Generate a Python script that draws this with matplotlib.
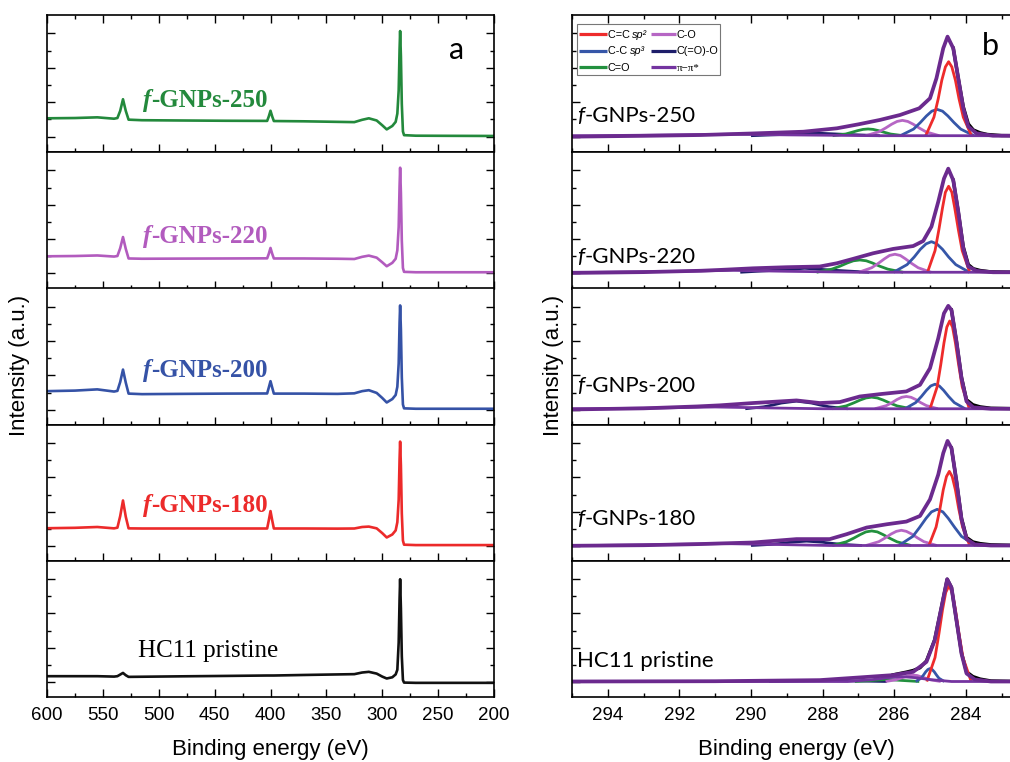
import matplotlib
matplotlib.use("Agg")
import matplotlib.pyplot as plt
from matplotlib.lines import Line2D
from matplotlib.patches import Rectangle
from matplotlib.ticker import MultipleLocator, FixedLocator

# ---------------- data: survey spectra (panel a) ----------------
survey_E = [600, 575, 555, 540, 537, 534.5, 532, 529.5, 527, 515, 480, 440, 403, 401.5, 400, 398.5,
            397, 370, 340, 325, 318, 312, 305, 300, 296, 291, 288, 286.5, 285.3, 284.5, 284, 283.3,
            282.5, 281.5, 280.5, 270, 240, 200]
survey_250 = [24.6, 24.8, 25.3, 24.3, 24.8, 30.0, 38.5, 30.0, 23.6, 23.2, 23.0, 22.8, 22.7, 26.0, 30.1, 26.0,
              22.6, 22.4, 22.0, 21.8, 23.5, 24.6, 23.0, 19.5, 16.5, 19.0, 22.0, 28.0, 45.0, 75.0, 88.3, 70.0,
              35.0, 15.0, 12.3, 11.9, 11.8, 11.7]
survey_220 = [23.6, 23.8, 24.2, 23.4, 23.8, 29.5, 37.7, 29.0, 22.0, 21.8, 21.9, 22.0, 22.1, 25.5, 29.7, 25.5,
              22.0, 22.0, 21.8, 21.6, 23.2, 24.1, 22.6, 19.2, 16.3, 18.8, 21.8, 28.0, 45.0, 75.0, 88.5, 70.0,
              35.0, 15.0, 12.2, 11.9, 11.9, 11.9]
survey_200 = [24.8, 25.2, 26.1, 24.5, 25.0, 31.5, 40.6, 31.0, 23.0, 22.6, 22.8, 23.0, 23.1, 27.5, 32.1, 27.5,
              23.0, 23.0, 22.8, 23.2, 24.8, 25.5, 23.5, 19.8, 16.5, 19.0, 22.0, 28.0, 45.0, 75.0, 87.6, 70.0,
              35.0, 15.0, 12.2, 11.9, 11.9, 11.9]
survey_180 = [24.1, 24.4, 25.0, 24.0, 24.5, 33.0, 44.5, 32.5, 24.0, 23.9, 23.9, 23.9, 23.9, 30.0, 36.7, 30.0,
              23.9, 23.9, 23.8, 23.9, 25.0, 25.3, 24.0, 20.5, 17.3, 19.5, 22.5, 28.5, 45.0, 75.0, 87.8, 70.0,
              35.0, 15.0, 12.0, 11.7, 11.7, 11.7]
survey_hc = [15.3, 15.3, 15.3, 15.0, 15.3, 16.5, 17.7, 16.0, 14.8, 14.9, 15.2, 15.5, 15.8, 15.8, 15.8, 15.8,
             15.8, 16.2, 16.6, 16.8, 18.0, 18.5, 17.2, 15.0, 13.6, 14.5, 16.6, 20.0, 40.0, 72.0, 86.6, 65.0,
             30.0, 12.5, 10.6, 10.4, 10.4, 10.4]

samples = ["f-GNPs-250", "f-GNPs-220", "f-GNPs-200", "f-GNPs-180", "HC11 pristine"]
survey_colors = ["#23893C", "#B25BBE", "#3552A6", "#EC2A2A", "#111111"]

# ---------------- data: C1s fits (panel b) ----------------
# f-GNPs-250
env_E_250 = [295.0, 293.0, 291.4, 290.0, 288.54, 287.6, 287.0, 286.4, 285.84, 285.3, 285.0, 284.82, 284.63,
             284.51, 284.35, 284.21, 284.07, 283.93, 283.7, 283.24, 282.5]
env_y_250 = [11.2, 11.8, 12.4, 13.5, 14.8, 17.3, 20.2, 23.4, 27.0, 31.9, 39.2, 53.8, 75.7, 84.2, 75.7, 53.8,
             31.9, 18.5, 13.6, 11.9, 11.9]
raw_E_250 = [284.35, 284.21, 284.07, 283.93, 283.79, 283.6, 283.4, 283.0, 282.5]
raw_y_250 = [75.7, 53.8, 33.0, 20.5, 16.1, 14.0, 12.8, 12.0, 11.9]
sp2_E_250 = [285.12, 284.89, 284.77, 284.67, 284.57, 284.48, 284.39, 284.29, 284.19, 284.07, 283.84]
sp2_y_250 = [11.9, 25.4, 38.9, 52.4, 62.1, 65.9, 62.1, 52.4, 38.9, 25.4, 11.9]
sp3_E_250 = [285.83, 285.46, 285.27, 285.10, 284.95, 284.80, 284.65, 284.50, 284.33, 284.14, 283.77]
sp3_y_250 = [11.9, 16.7, 21.5, 26.3, 29.8, 31.1, 29.8, 26.3, 21.5, 16.7, 11.9]
co_E_250 = [286.80, 286.43, 286.24, 286.07, 285.92, 285.77, 285.62, 285.47, 285.30, 285.11, 284.74]
co_y_250 = [11.9, 14.7, 17.5, 20.3, 22.3, 23.1, 22.3, 20.3, 17.5, 14.7, 11.9]
cdo_E_250 = [287.72, 287.36, 287.18, 287.02, 286.87, 286.73, 286.59, 286.44, 286.28, 286.10, 285.74]
cdo_y_250 = [11.9, 13.1, 14.4, 15.6, 16.5, 16.8, 16.5, 15.6, 14.4, 13.1, 11.9]
coo_E_250 = [290.0, 289.0, 288.2, 287.4, 286.4]
coo_y_250 = [11.9, 12.9, 13.8, 12.9, 11.9]
pi_E_250 = [295.0, 294.5, 292.0, 290.5, 289.0, 286.5, 282.5]
pi_y_250 = [11.9, 11.9, 12.5, 13.0, 12.5, 11.9, 11.9]

# f-GNPs-220
env_E_220 = [295.0, 293.0, 291.4, 290.87, 289.94, 289.0, 288.08, 287.6, 287.15, 286.59, 286.03, 285.47, 285.19,
             284.96, 284.77, 284.61, 284.49, 284.35, 284.21, 284.07, 283.93, 283.7, 283.24, 282.5]
env_y_220 = [11.4, 12.0, 13.0, 13.6, 14.8, 15.6, 16.1, 18.5, 21.7, 25.8, 29.0, 31.1, 34.8, 45.3, 63.5, 80.5,
             87.8, 79.3, 56.2, 29.4, 16.1, 12.9, 11.9, 11.9]
raw_E_220 = [284.35, 284.21, 284.07, 283.93, 283.79, 283.6, 283.3, 282.5]
raw_y_220 = [79.3, 56.2, 30.5, 17.5, 14.5, 13.2, 12.2, 11.9]
sp2_E_220 = [285.07, 284.86, 284.75, 284.65, 284.57, 284.48, 284.39, 284.31, 284.21, 284.10, 283.89]
sp2_y_220 = [11.9, 27.7, 43.4, 59.2, 70.5, 74.9, 70.5, 59.2, 43.4, 27.7, 11.9]
sp3_E_220 = [286.02, 285.64, 285.44, 285.27, 285.11, 284.96, 284.81, 284.65, 284.48, 284.28, 283.90]
sp3_y_220 = [11.9, 17.5, 23.1, 28.7, 32.7, 34.3, 32.7, 28.7, 23.1, 17.5, 11.9]
co_E_220 = [286.99, 286.63, 286.44, 286.27, 286.13, 285.98, 285.83, 285.69, 285.52, 285.33, 284.97]
co_y_220 = [11.9, 15.2, 18.5, 21.8, 24.2, 25.1, 24.2, 21.8, 18.5, 15.2, 11.9]
cdo_E_220 = [288.17, 287.74, 287.51, 287.31, 287.14, 286.96, 286.78, 286.61, 286.41, 286.18, 285.75]
cdo_y_220 = [11.9, 14.2, 16.4, 18.7, 20.3, 20.9, 20.3, 18.7, 16.4, 14.2, 11.9]
coo_E_220 = [290.3, 289.3, 288.5, 287.7, 286.7]
coo_y_220 = [11.9, 13.4, 14.8, 13.4, 11.9]
pi_E_220 = [295.0, 294.5, 292.0, 290.5, 289.0, 287.0, 282.5]
pi_y_220 = [11.9, 11.9, 12.6, 13.3, 12.6, 11.9, 11.9]

# f-GNPs-200
env_E_200 = [295.0, 293.0, 291.5, 290.87, 289.94, 288.73, 288.08, 287.52, 286.96, 286.4, 285.66, 285.28, 285.0,
             284.77, 284.61, 284.49, 284.4, 284.26, 284.12, 283.98, 283.79, 283.3, 282.5]
env_y_200 = [11.4, 12.2, 13.6, 14.4, 16.1, 18.0, 16.1, 16.8, 20.9, 22.6, 24.6, 29.4, 41.6, 63.5, 81.8, 87.3,
             84.2, 61.1, 34.3, 17.3, 12.9, 11.9, 11.9]
raw_E_200 = [284.4, 284.26, 284.12, 283.98, 283.8, 283.6, 283.3, 282.5]
raw_y_200 = [84.2, 61.1, 35.0, 18.5, 14.8, 13.3, 12.3, 11.9]
sp2_E_200 = [285.00, 284.80, 284.70, 284.61, 284.53, 284.45, 284.37, 284.29, 284.20, 284.10, 283.90]
sp2_y_200 = [11.9, 28.0, 44.1, 60.1, 71.7, 76.2, 71.7, 60.1, 44.1, 28.0, 11.9]
sp3_E_200 = [285.70, 285.40, 285.24, 285.10, 284.98, 284.86, 284.74, 284.62, 284.48, 284.32, 284.02]
sp3_y_200 = [11.9, 16.4, 20.9, 25.4, 28.6, 29.9, 28.6, 25.4, 20.9, 16.4, 11.9]
co_E_200 = [286.54, 286.22, 286.06, 285.92, 285.79, 285.66, 285.53, 285.40, 285.26, 285.10, 284.78]
co_y_200 = [11.9, 14.2, 16.4, 18.7, 20.3, 20.9, 20.3, 18.7, 16.4, 14.2, 11.9]
cdo_E_200 = [287.73, 287.34, 287.13, 286.95, 286.79, 286.63, 286.47, 286.31, 286.13, 285.92, 285.53]
cdo_y_200 = [11.9, 14.0, 16.2, 18.3, 19.8, 20.4, 19.8, 18.3, 16.2, 14.0, 11.9]
coo_E_200 = [290.16, 289.65, 289.38, 289.15, 288.73, 288.31, 288.08, 287.81, 287.30]
coo_y_200 = [11.9, 13.3, 14.7, 16.1, 17.5, 16.1, 14.7, 13.3, 11.9]
pi_E_200 = [295.0, 294.5, 292.5, 291.0, 289.5, 288.0, 282.5]
pi_y_200 = [11.9, 11.9, 12.5, 13.2, 12.5, 11.9, 11.9]

# f-GNPs-180
env_E_180 = [295.0, 293.0, 291.5, 290.87, 289.94, 288.73, 287.8, 287.33, 286.77, 286.21, 285.66, 285.28, 285.0,
             284.77, 284.63, 284.51, 284.4, 284.26, 284.12, 283.98, 283.75, 283.3, 282.5]
env_y_180 = [11.2, 11.6, 12.4, 12.9, 13.6, 16.1, 16.1, 19.7, 24.6, 27.0, 29.0, 33.1, 45.3, 63.5, 79.3, 88.3,
             83.0, 58.6, 30.7, 16.1, 12.2, 11.4, 11.4]
raw_E_180 = [284.4, 284.26, 284.12, 283.98, 283.8, 283.6, 283.3, 282.5]
raw_y_180 = [83.0, 58.6, 31.5, 17.3, 14.0, 12.8, 11.9, 11.4]
sp2_E_180 = [285.03, 284.83, 284.72, 284.63, 284.54, 284.46, 284.38, 284.29, 284.20, 284.09, 283.89]
sp2_y_180 = [11.4, 25.0, 38.7, 52.3, 62.1, 65.9, 62.1, 52.3, 38.7, 25.0, 11.4]
sp3_E_180 = [285.87, 285.48, 285.29, 285.11, 284.96, 284.80, 284.64, 284.49, 284.31, 284.12, 283.73]
sp3_y_180 = [11.4, 18.1, 24.7, 31.4, 36.1, 38.0, 36.1, 31.4, 24.7, 18.1, 11.4]
co_E_180 = [286.79, 286.43, 286.25, 286.09, 285.94, 285.80, 285.66, 285.51, 285.35, 285.17, 284.81]
co_y_180 = [11.4, 14.2, 17.0, 19.8, 21.8, 22.6, 21.8, 19.8, 17.0, 14.2, 11.4]
cdo_E_180 = [287.73, 287.34, 287.13, 286.95, 286.79, 286.63, 286.47, 286.31, 286.13, 285.92, 285.53]
cdo_y_180 = [11.4, 14.1, 16.8, 19.4, 21.4, 22.1, 21.4, 19.4, 16.8, 14.1, 11.4]
coo_E_180 = [290.0, 289.45, 289.15, 288.9, 288.45, 288.0, 287.75, 287.45, 286.9]
coo_y_180 = [11.4, 12.2, 13.0, 13.8, 14.6, 13.8, 13.0, 12.2, 11.4]
pi_E_180 = [295.0, 294.5, 292.5, 290.8, 289.2, 287.8, 282.5]
pi_y_180 = [11.4, 11.4, 12.1, 12.8, 12.1, 11.4, 11.4]

# HC11 pristine
env_E_hc = [295.0, 291.0, 288.08, 286.96, 286.03, 285.47, 285.1, 284.87, 284.68, 284.52, 284.4, 284.26, 284.12,
            283.98, 283.75, 283.3, 282.5]
env_y_hc = [11.4, 11.6, 12.4, 14.4, 16.1, 18.5, 25.8, 41.6, 65.9, 86.6, 80.5, 56.2, 31.9, 17.3, 12.9, 11.4, 11.4]
raw_E_hc = [286.03, 285.66, 285.47, 285.28, 285.1, 284.87, 284.68, 284.52, 284.4, 284.26, 284.12, 283.98, 283.8,
            283.6, 283.3, 282.5]
raw_y_hc = [16.3, 18.3, 19.5, 21.5, 26.5, 42.0, 66.0, 86.6, 80.5, 56.2, 32.5, 18.5, 15.0, 13.2, 11.8, 11.4]
sp2_E_hc = [285.09, 284.86, 284.75, 284.65, 284.56, 284.47, 284.38, 284.29, 284.19, 284.08, 283.85]
sp2_y_hc = [11.4, 29.0, 46.6, 64.2, 76.9, 81.8, 76.9, 64.2, 46.6, 29.0, 11.4]
sp3_E_hc = [285.40, 285.25, 285.18, 285.12, 285.06, 285.00, 284.94, 284.88, 284.82, 284.75, 284.60]
sp3_y_hc = [11.4, 13.8, 16.2, 18.5, 20.2, 20.9, 20.2, 18.5, 16.2, 13.8, 11.4]
co_E_hc = [286.24, 285.96, 285.82, 285.69, 285.58, 285.47, 285.36, 285.25, 285.12, 284.98, 284.70]
co_y_hc = [11.4, 12.6, 13.8, 14.9, 15.8, 16.1, 15.8, 14.9, 13.8, 12.6, 11.4]
cdo_E_hc = [287.1, 286.6, 286.2, 285.8, 285.3]
cdo_y_hc = [11.4, 12.2, 12.9, 12.2, 11.4]
coo_E_hc = [289.5, 288.5, 287.8, 287.1, 286.2]
coo_y_hc = [11.4, 11.8, 12.0, 11.8, 11.4]
pi_E_hc = [295.0, 287.3, 286.6, 286.2, 285.8, 285.4, 285.0, 284.4, 282.5]
pi_y_hc = [11.4, 11.4, 12.8, 14.2, 15.0, 14.2, 12.8, 11.4, 11.4]

component_names = ["C=C ", "C-C ", "C=O", "C-O", "C(=O)-O", "\u03c0\u2212\u03c0*"]
component_suffix = ["sp\u00b2", "sp\u00b3", "", "", "", ""]
component_colors = ["#EE2B2B", "#3656A8", "#22903E", "#B666C4", "#1E1E6A", "#7434A0"]
envelope_color = "#6B2A8E"

# ---------------- figure ----------------
plt.rcParams["font.family"] = ["Liberation Sans", "DejaVu Sans"]

W, H = 1010, 762
fig = plt.figure(figsize=(W / 100, H / 100), dpi=100)
renderer = fig.canvas.get_renderer()
bounds = [15, 152, 288.5, 425, 561, 697]

def fx(px):
    return px / W

def fy(py):
    return 1 - py / H

def add_ax(x0, x1, top, bottom):
    return fig.add_axes([x0 / W, 1 - bottom / H, (x1 - x0) / W, (bottom - top) / H])

def style(ax, i, xlim, major, minor):
    ax.set_xlim(*xlim)
    ax.set_ylim(0, 100)
    ax.xaxis.set_major_locator(MultipleLocator(major))
    ax.xaxis.set_minor_locator(MultipleLocator(minor))
    ax.yaxis.set_major_locator(FixedLocator([11.2, 36.3, 61.4, 86.5]))
    ax.yaxis.set_minor_locator(FixedLocator([23.75, 48.85, 73.95]))
    ax.tick_params(which="both", direction="in", top=(i == 0), bottom=True, left=True, right=True,
                   labelleft=False, labelbottom=(i == 4), width=1.0, labelsize=13.5, pad=7)
    ax.tick_params(which="major", length=6)
    ax.tick_params(which="minor", length=3)
    for s in ax.spines.values():
        s.set_linewidth(1.2)

def two_part_label(x_px, y_px, p1, p2, color, fam, size, weight, italic_first=True):
    t = fig.text(fx(x_px), fy(y_px), p1, color=color, family=fam, size=size, weight=weight,
                 style="italic" if italic_first else "normal", ha="left", va="baseline")
    bb = t.get_window_extent(renderer)
    fig.text(bb.x1 / W, fy(y_px), p2, color=color, family=fam, size=size, weight=weight,
             style="normal" if italic_first else "italic", ha="left", va="baseline")

survey_data = [survey_250, survey_220, survey_200, survey_180, survey_hc]
left_base = [107, 243, 377, 512, 657]
for i in range(5):
    ax = add_ax(47, 494, bounds[i], bounds[i + 1])
    style(ax, i, (600, 200), 50, 25)
    ax.plot(survey_E, survey_data[i], color=survey_colors[i], lw=1.9, solid_joinstyle="round")

for i in range(4):
    two_part_label(143, left_base[i], "f", "-" + samples[i][2:], survey_colors[i], "Liberation Serif", 18, "bold")
fig.text(fx(138), fy(left_base[4]), samples[4], color="black", family="Liberation Serif", size=18,
         ha="left", va="baseline")

fits = [
    (env_E_250, env_y_250, raw_E_250, raw_y_250,
     [(sp2_E_250, sp2_y_250), (sp3_E_250, sp3_y_250), (cdo_E_250, cdo_y_250), (co_E_250, co_y_250),
      (coo_E_250, coo_y_250), (pi_E_250, pi_y_250)]),
    (env_E_220, env_y_220, raw_E_220, raw_y_220,
     [(sp2_E_220, sp2_y_220), (sp3_E_220, sp3_y_220), (cdo_E_220, cdo_y_220), (co_E_220, co_y_220),
      (coo_E_220, coo_y_220), (pi_E_220, pi_y_220)]),
    (env_E_200, env_y_200, raw_E_200, raw_y_200,
     [(sp2_E_200, sp2_y_200), (sp3_E_200, sp3_y_200), (cdo_E_200, cdo_y_200), (co_E_200, co_y_200),
      (coo_E_200, coo_y_200), (pi_E_200, pi_y_200)]),
    (env_E_180, env_y_180, raw_E_180, raw_y_180,
     [(sp2_E_180, sp2_y_180), (sp3_E_180, sp3_y_180), (cdo_E_180, cdo_y_180), (co_E_180, co_y_180),
      (coo_E_180, coo_y_180), (pi_E_180, pi_y_180)]),
    (env_E_hc, env_y_hc, raw_E_hc, raw_y_hc,
     [(sp2_E_hc, sp2_y_hc), (sp3_E_hc, sp3_y_hc), (cdo_E_hc, cdo_y_hc), (co_E_hc, co_y_hc),
      (coo_E_hc, coo_y_hc), (pi_E_hc, pi_y_hc)]),
]
draw_order = [4, 2, 3, 1, 0, 5]
for i in range(5):
    ax = add_ax(572, 1019.5, bounds[i], bounds[i + 1])
    style(ax, i, (295, 282.5), 2, 1)
    eE, eY, rE, rY, comps = fits[i]
    ax.plot(rE, rY, color="black", lw=2.4, solid_joinstyle="round")
    for k in draw_order:
        cE, cY = comps[k]
        ax.plot(cE, cY, color=component_colors[k], lw=2.0, solid_joinstyle="round",
                solid_capstyle="butt")
    ax.plot(eE, eY, color=envelope_color, lw=2.7, solid_joinstyle="round")

right_base = [122, 263, 392, 525, 667]
for i in range(4):
    two_part_label(577, right_base[i], "f", "-" + samples[i][2:], "black", "Lato", 16, "normal")
fig.text(fx(577), fy(right_base[4]), samples[4], color="black", family="Lato", size=16,
         ha="left", va="baseline")

# legend (drawn as a boxed key in the top C1s panel)
fig.add_artist(Rectangle((fx(577), fy(74.5)), (720 - 577) / W, (74.5 - 24) / H, transform=fig.transFigure,
                         facecolor="white", edgecolor="#777777", lw=0.8, zorder=5))
row_y = [33.7, 50.7, 67.0]
col_line = [(578.5, 607.0), (651.0, 676.0)]
for k in range(6):
    col, row = k // 3, k % 3
    x0, x1 = col_line[col]
    y = row_y[row]
    fig.add_artist(Line2D([fx(x0), fx(x1)], [fy(y), fy(y)], color=component_colors[k], lw=2.3,
                          transform=fig.transFigure, zorder=6, solid_capstyle="butt"))
    fam = "Liberation Serif" if k == 5 else "Liberation Sans"
    t = fig.text(fx(x1 + 0.5), fy(y + 3.8), component_names[k], family=fam, size=7.8, ha="left",
                 va="baseline", zorder=7)
    if component_suffix[k]:
        bb = t.get_window_extent(renderer)
        fig.text(bb.x1 / W, fy(y + 3.8), component_suffix[k], family="Liberation Sans", style="italic",
                 size=7.8, ha="left", va="baseline", zorder=7)

fig.text(fx(457), fy(59), "a", family="Lato", size=22, ha="center", va="baseline")
fig.text(fx(990), fy(55), "b", family="Lato", size=22, ha="center", va="baseline")

fig.text(fx(20), fy(365), "Intensity (a.u.)", rotation=90, size=16, ha="center", va="center")
fig.text(fx(553), fy(365), "Intensity (a.u.)", rotation=90, size=16, ha="center", va="center")
fig.text(fx(270.5), fy(750), "Binding energy (eV)", size=16, ha="center", va="center")
fig.text(fx(796), fy(750), "Binding energy (eV)", size=16, ha="center", va="center")

fig.savefig("out.png", dpi=100)
